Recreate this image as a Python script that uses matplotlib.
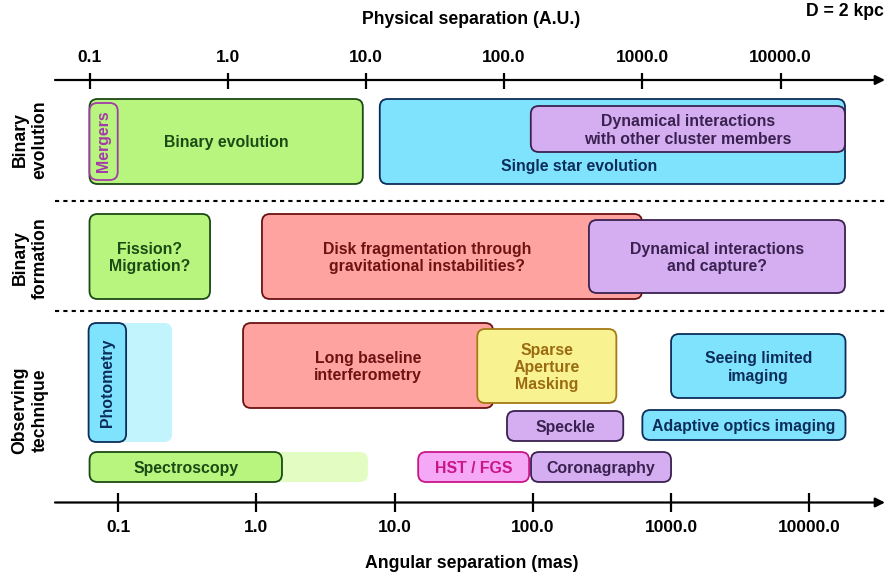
import numpy as np
import matplotlib
matplotlib.use("Agg")
import matplotlib.pyplot as plt
from matplotlib.patches import FancyBboxPatch

plt.rcParams['font.family'] = ['Liberation Sans', 'DejaVu Sans']
plt.rcParams['font.weight'] = 'bold'

# ---- data (ranges) ----
# top axis in AU, bottom axis in mas; as drawn, 1 mas sits at ~1.62 AU
AU_PER_MAS = 10 ** 0.208
au_ticks = [0.1, 1.0, 10.0, 100.0, 1000.0, 10000.0]
mas_ticks = [0.1, 1.0, 10.0, 100.0, 1000.0, 10000.0]

# binary evolution row (AU)
evol_labels = ["Binary evolution", "Mergers", "Single star evolution",
               "Dynamical interactions\nwith other cluster members"]
evol_lo_au = [0.1, 0.1, 12.6, 156.0]
evol_hi_au = [9.5, 0.16, 29300.0, 29300.0]

# binary formation row (AU)
form_labels = ["Fission?\nMigration?",
               "Disk fragmentation through\ngravitational instabilities?",
               "Dynamical interactions\nand capture?"]
form_lo_au = [0.1, 1.77, 411.0]
form_hi_au = [0.745, 995.0, 29300.0]

# observing techniques (mas)
obs_labels = ["Photometry", "Spectroscopy", "Long baseline\ninterferometry",
              "Sparse\nAperture\nMasking", "Speckle", "Seeing limited\nimaging",
              "Adaptive optics imaging", "HST / FGS", "Coronagraphy"]
obs_lo_mas = [0.061, 0.062, 0.80, 39.6, 65.0, 1000.0, 620.0, 14.8, 97.0]
obs_hi_mas = [0.114, 1.53, 51.6, 402.0, 451.0, 18300.0, 18300.0, 94.0, 1000.0]
# faint extensions of photometry and spectroscopy (mas)
ext_hi_mas = {"Photometry": 0.245, "Spectroscopy": 6.4}

# ---- styles / layout ----
PX_PER_DEC = 138.2
X0_PX = 89.5  # pixel position of 0.1 AU
R = 8 / PX_PER_DEC

def lx(px):
    return -1 + (px - X0_PX) / PX_PER_DEC

palette = {
    "green": ("#b8f57f", "#1c4a14", "#1c4a14"),
    "blue": ("#80e3fd", "#0c2d5a", "#0c2d5a"),
    "purple": ("#d4aef0", "#3a2150", "#3a2150"),
    "red": ("#ffa3a1", "#6b1212", "#6b1212"),
    "yellow": ("#f8f290", "#a47a14", "#9b6b12"),
    "pink": ("#f5a8f5", "#c8168a", "#c8168a"),
    "merger": ("#b8f57f", "#a33aa8", "#a33aa8"),
}

# label -> (colour key, y top px, y bottom px, rotation, text x px or None, text y px or None)
layout = {
    "Binary evolution": ("green", 99, 184, 0, None, None),
    "Mergers": ("merger", 103, 180, 90, None, None),
    "Single star evolution": ("blue", 99, 184, 0, 579, 167),
    "Dynamical interactions\nwith other cluster members": ("purple", 106, 152, 0, None, None),
    "Fission?\nMigration?": ("green", 214, 299, 0, None, None),
    "Disk fragmentation through\ngravitational instabilities?": ("red", 214, 299, 0, 427, None),
    "Dynamical interactions\nand capture?": ("purple", 220, 293, 0, None, None),
    "Photometry": ("blue", 323, 442, 90, None, None),
    "Spectroscopy": ("green", 452, 482, 0, None, None),
    "Long baseline\ninterferometry": ("red", 323, 408, 0, None, None),
    "Sparse\nAperture\nMasking": ("yellow", 329, 403, 0, None, None),
    "Speckle": ("purple", 411, 441, 0, None, None),
    "Seeing limited\nimaging": ("blue", 334, 398, 0, None, None),
    "Adaptive optics imaging": ("blue", 410, 440, 0, None, None),
    "HST / FGS": ("pink", 452, 482, 0, None, None),
    "Coronagraphy": ("purple", 452, 482, 0, None, None),
}
ext_colors = {"Photometry": "#c1f4fd", "Spectroscopy": "#e3fcc1"}

fig = plt.figure(figsize=(8.86, 5.77), dpi=100)
ax = fig.add_axes([0, 0, 1, 1])
ax.set_xlim(lx(0), lx(886))
ax.set_ylim(577, 0)
ax.axis("off")


def rbox(x0, x1, y0, y1, fc, ec, lw=1.3, z=2):
    p = FancyBboxPatch((x0, y0), x1 - x0, y1 - y0,
                       boxstyle=f"round,pad=0,rounding_size={R}",
                       mutation_aspect=PX_PER_DEC, fc=fc, ec=ec, lw=lw, zorder=z)
    ax.add_patch(p)


def draw_row(labels, lo, hi):
    for i, (lab, a, b) in enumerate(zip(labels, lo, hi)):
        key, yt, yb, rot, tx, ty = layout[lab]
        fc, ec, tc = palette[key]
        x0, x1 = np.log10(a), np.log10(b)
        rbox(x0, x1, yt, yb, fc, ec, z=2 + i * 0.1)
        tx = (x0 + x1) / 2 if tx is None else lx(tx)
        ty = (yt + yb) / 2 + (1.5 if rot == 0 else 0) if ty is None else ty
        ax.text(tx, ty, lab, ha="center", va="center", rotation=rot,
                color=tc, fontsize=11.4, fontweight="bold", zorder=3 + i * 0.1,
                linespacing=1.2)


# light extensions (drawn underneath)
for lab, hi in ext_hi_mas.items():
    i = obs_labels.index(lab)
    key, yt, yb = layout[lab][:3]
    x0 = np.log10(obs_lo_mas[i] * AU_PER_MAS)
    x1 = np.log10(hi * AU_PER_MAS)
    rbox(x0, x1, yt, yb, ext_colors[lab], "none", lw=0, z=1)

draw_row(evol_labels, evol_lo_au, evol_hi_au)
draw_row(form_labels, form_lo_au, form_hi_au)
draw_row(obs_labels, np.array(obs_lo_mas) * AU_PER_MAS, np.array(obs_hi_mas) * AU_PER_MAS)

# axes with arrows
for y in (80, 502.5):
    ax.annotate("", xy=(lx(885), y), xytext=(lx(55), y), annotation_clip=False,
                arrowprops=dict(arrowstyle="-|>", lw=1.6, color="black",
                                mutation_scale=14, shrinkA=0, shrinkB=0))

top_x = np.log10(au_ticks)
ax.vlines(top_x, 72.5, 89, color="black", lw=1.6)
for x, t in zip(top_x, au_ticks):
    ax.text(x, 57, f"{t:.1f}", ha="center", va="center", fontsize=12.5, fontweight="bold")

bot_x = np.log10(np.array(mas_ticks) * AU_PER_MAS)
ax.vlines(bot_x, 492.5, 512, color="black", lw=1.6)
for x, t in zip(bot_x, mas_ticks):
    ax.text(x, 528, f"{t:.1f}", ha="center", va="center", fontsize=12.5, fontweight="bold")

ax.text(lx(471), 19, "Physical separation (A.U.)", ha="center", va="center",
        fontsize=12.7, fontweight="bold")
ax.text(lx(471.5), 563, "Angular separation (mas)", ha="center", va="center",
        fontsize=12.7, fontweight="bold")
ax.text(lx(884), 12, "D = 2 kpc", ha="right", va="center", fontsize=12.7, fontweight="bold")

# dashed separators between rows
for y in (201, 311):
    ax.plot([lx(55), lx(886)], [y, y], color="black", lw=1.5, ls=(0, (2, 2)))

row_names = ["Binary\nevolution", "Binary\nformation", "Observing\ntechnique"]
for name, y in zip(row_names, [140, 258, 410]):
    ax.text(lx(30), y, name, ha="center", va="center", rotation=90,
            fontsize=12.7, fontweight="bold", linespacing=1.2)

fig.savefig("out.png", dpi=100)
